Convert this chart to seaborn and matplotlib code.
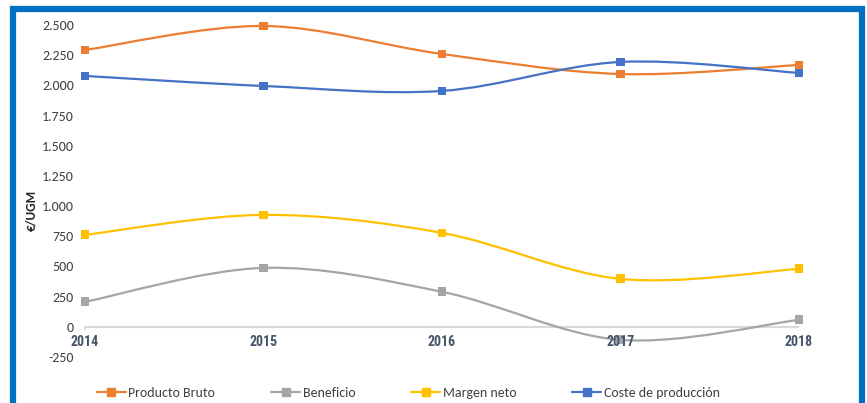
import matplotlib
matplotlib.use("Agg")
import matplotlib.pyplot as plt
from matplotlib.path import Path
from matplotlib.patches import PathPatch, Rectangle
from matplotlib.lines import Line2D
from matplotlib import font_manager
import seaborn as sns
import pandas as pd
import numpy as np

# datos (EUR/UGM)
anios = [2014, 2015, 2016, 2017, 2018]
producto_bruto = [2293, 2492, 2260, 2094, 2169]
beneficio = [207, 488, 290, -108, 58]
margen_neto = [762, 927, 778, 397, 480]
coste_produccion = [2078, 1995, 1954, 2194, 2103]

series = ["Producto Bruto", "Beneficio", "Margen neto", "Coste de producción"]
colores = ["#ED7D31", "#A5A5A5", "#FFC000", "#4472C4"]
yticks = [-250, 0, 250, 500, 750, 1000, 1250, 1500, 1750, 2000, 2250, 2500]

nombres = set(f.name for f in font_manager.fontManager.ttflist)


def primera(candidatas, defecto):
    for c in candidatas:
        if c in nombres:
            return c
    return defecto


fuente_base = primera(["Carlito", "Lato"], "DejaVu Sans")
fuente_anios = primera(["Roboto Condensed", "Open Sans Condensed", "Liberation Sans Narrow",
                        "Fira Sans Condensed", "PT Sans Narrow", "Archivo Narrow",
                        "Encode Sans Condensed", "Barlow Condensed"], fuente_base)

sns.set_style("white")
plt.rcParams["font.family"] = [fuente_base, "DejaVu Sans"]

df = pd.DataFrame({
    "anio": anios * 4,
    "valor": producto_bruto + beneficio + margen_neto + coste_produccion,
    "serie": [s for s in series for _ in anios],
})

fig = plt.figure(figsize=(8.67, 4.03), dpi=100)
ax = fig.add_axes([85 / 867, 1 - 357 / 403, (799 - 85) / 867, (357 - 25) / 403])


def curva_suave(x, y):
    # curva tipo "linea suavizada" de Excel (Bezier Catmull-Rom)
    pts = np.column_stack([x, y]).astype(float)
    ext = np.vstack([pts[0], pts, pts[-1]])
    verts = [pts[0]]
    codes = [Path.MOVETO]
    for i in range(len(pts) - 1):
        p0, p1, p2, p3 = ext[i], ext[i + 1], ext[i + 2], ext[i + 3]
        verts += [p1 + (p2 - p0) / 6, p2 - (p3 - p1) / 6, p2]
        codes += [Path.CURVE4] * 3
    return Path(verts, codes)


# linea del cero
ax.axhline(0, color="#D9D9D9", lw=1.5, zorder=1)
ax.plot([2014, 2014], [0, -30], color="#D9D9D9", lw=1.2, clip_on=False)

for s, c in zip(series, colores):
    sub = df[df["serie"] == s]
    ax.add_patch(PathPatch(curva_suave(sub["anio"], sub["valor"]), fill=False,
                           edgecolor=c, lw=1.6, zorder=2, clip_on=False))

sns.scatterplot(data=df, x="anio", y="valor", hue="serie", palette=colores,
                marker="s", s=40, edgecolor="none", legend=False, zorder=3,
                clip_on=False, ax=ax)

ax.set_xlim(2014, 2018)
ax.set_ylim(-250, 2500)
ax.set_yticks(yticks)
ax.set_yticklabels([f"{v:,}".replace(",", ".") for v in yticks], fontsize=10, color="#404040")
ax.tick_params(axis="y", length=0, pad=8)
ax.set_xticks([])
ax.set_xlabel("")
ax.set_ylabel("€/UGM", fontsize=9.5, fontweight="bold", color="#262626")
ax.yaxis.set_label_coords((37 - 85) / 714, (357 - 210) / 332)
for sp in ax.spines.values():
    sp.set_visible(False)

for a in anios:
    ax.annotate(str(a), (a, 0), xytext=(0, -6), textcoords="offset points",
                ha="center", va="top", fontsize=10, fontweight="bold",
                color="#44546A", family=fuente_anios)

handles = [Line2D([0], [0], color=c, lw=1.6, marker="s", markersize=5.5) for c in colores]
fig.legend(handles, series, loc="center left", bbox_to_anchor=(91 / 867, 1 - 393 / 403), ncol=4,
           frameon=False, fontsize=10, handlelength=2.1, columnspacing=4.0,
           handletextpad=0.2, borderaxespad=0, labelcolor="#404040")

# marco azul
fig.add_artist(Rectangle((13 / 867, -0.05), (861.5 - 13) / 867, 1 - 9.5 / 403 + 0.05,
                         transform=fig.transFigure, fill=False, edgecolor="#0070C0", lw=4.5))

fig.savefig("out.png", dpi=100)
